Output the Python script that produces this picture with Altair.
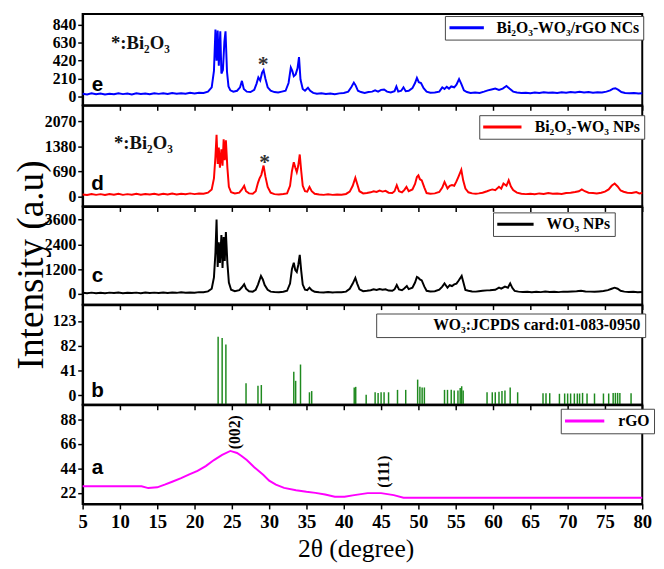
import altair as alt
import pandas as pd

# ---------------- data ----------------
x_ticks = [5, 10, 15, 20, 25, 30, 35, 40, 45, 50, 55, 60, 65, 70, 75, 80]

e_name = "Bi\u2082O\u2083-WO\u2083/rGO NCs"
e_yticks = [0, 210, 420, 630, 840]
e_points = [(5.0, 35), (5.6, 28), (6.2, 40), (6.8, 30), (7.4, 38), (8.0, 27), (8.6, 36), (9.2, 30), (9.8, 42), (10.4, 31),
            (11.0, 37), (11.6, 28), (12.2, 40), (12.8, 33), (13.4, 38), (14.0, 30), (14.6, 42), (15.2, 34), (15.8, 40),
            (16.4, 32), (17.0, 44), (17.6, 36), (18.2, 42), (18.8, 35), (19.4, 46), (20.0, 38), (20.6, 48), (21.2, 45),
            (21.8, 60), (22.3, 110), (22.6, 300), (22.8, 780), (22.95, 420), (23.1, 770), (23.25, 360), (23.45, 760),
            (23.6, 270), (23.8, 310), (24.0, 640), (24.15, 760), (24.35, 290), (24.55, 120), (24.8, 75), (25.2, 60),
            (25.7, 70), (26.1, 110), (26.35, 185), (26.6, 90), (27.0, 60), (27.5, 55), (28.0, 80), (28.3, 150),
            (28.55, 225), (28.8, 190), (29.05, 280), (29.25, 310), (29.5, 210), (29.8, 110), (30.2, 70), (30.7, 55),
            (31.2, 50), (31.7, 60), (32.2, 70), (32.6, 160), (32.9, 340), (33.1, 300), (33.3, 240), (33.55, 260),
            (33.8, 330), (34.0, 460), (34.2, 200), (34.5, 90), (34.8, 70), (35.2, 105), (35.5, 70), (35.9, 45),
            (36.4, 35), (37.0, 40), (37.6, 32), (38.2, 38), (38.8, 30), (39.4, 40), (40.0, 45), (40.6, 60), (41.0, 110),
            (41.35, 165), (41.6, 130), (41.9, 70), (42.3, 55), (42.8, 45), (43.3, 55), (43.8, 60), (44.2, 75), (44.6, 60),
            (45.0, 80), (45.4, 85), (45.8, 60), (46.3, 50), (46.8, 65), (47.05, 120), (47.3, 60), (47.7, 70), (48.0, 110),
            (48.3, 65), (48.7, 70), (49.2, 100), (49.55, 160), (49.8, 220), (50.05, 170), (50.35, 160), (50.7, 100),
            (51.1, 60), (51.6, 48), (52.2, 50), (52.8, 60), (53.2, 110), (53.5, 90), (53.8, 115), (54.1, 95), (54.4, 120),
            (54.8, 110), (55.1, 140), (55.45, 205), (55.75, 150), (56.1, 75), (56.5, 55), (57.0, 45), (57.6, 50),
            (58.2, 45), (58.8, 60), (59.3, 75), (59.8, 85), (60.3, 95), (60.8, 80), (61.3, 95), (61.8, 125), (62.2, 95),
            (62.7, 60), (63.2, 50), (63.8, 45), (64.4, 48), (65.0, 42), (65.6, 50), (66.2, 45), (66.8, 52), (67.4, 46),
            (68.0, 50), (68.6, 44), (69.2, 52), (69.8, 48), (70.4, 55), (71.0, 50), (71.6, 58), (72.2, 50), (72.8, 55),
            (73.4, 48), (74.0, 52), (74.6, 50), (75.2, 60), (75.7, 75), (76.1, 95), (76.4, 100), (76.8, 80), (77.2, 55),
            (77.7, 45), (78.3, 40), (78.9, 45), (79.5, 38), (80.0, 42)]

d_name = "Bi\u2082O\u2083-WO\u2083 NPs"
d_yticks = [0, 690, 1380, 2070]
d_points = [(5.0, 60), (5.6, 45), (6.2, 75), (6.8, 50), (7.4, 70), (8.0, 45), (8.6, 72), (9.2, 55), (9.8, 78), (10.4, 50),
            (11.0, 70), (11.6, 55), (12.2, 80), (12.8, 52), (13.4, 75), (14.0, 58), (14.6, 82), (15.2, 55), (15.8, 78),
            (16.4, 60), (17.0, 85), (17.6, 62), (18.2, 80), (18.8, 65), (19.4, 90), (20.0, 70), (20.6, 85), (21.2, 80),
            (21.8, 110), (22.3, 200), (22.6, 500), (22.8, 1100), (22.95, 1700), (23.1, 900), (23.25, 1350), (23.4, 800),
            (23.6, 1300), (23.75, 850), (23.9, 1580), (24.05, 1000), (24.2, 1550), (24.4, 800), (24.6, 270), (24.9, 120),
            (25.4, 90), (26.0, 110), (26.35, 200), (26.65, 300), (26.9, 150), (27.3, 90), (27.8, 80), (28.2, 150),
            (28.5, 380), (28.7, 495), (28.95, 600), (29.25, 855), (29.5, 550), (29.8, 270), (30.2, 110), (30.7, 70),
            (31.3, 60), (31.9, 75), (32.4, 90), (32.8, 300), (33.05, 700), (33.3, 945), (33.5, 800), (33.7, 675),
            (33.9, 850), (34.1, 1160), (34.3, 700), (34.5, 300), (34.8, 150), (35.1, 140), (35.4, 270), (35.7, 150),
            (36.1, 80), (36.7, 60), (37.3, 50), (37.9, 65), (38.5, 50), (39.1, 60), (39.7, 55), (40.3, 75), (40.8, 140),
            (41.2, 300), (41.55, 520), (41.8, 350), (42.1, 150), (42.6, 90), (43.1, 100), (43.6, 120), (44.0, 150),
            (44.4, 130), (44.8, 170), (45.2, 140), (45.6, 160), (46.0, 110), (46.5, 100), (46.8, 150), (47.1, 315),
            (47.4, 150), (47.8, 120), (48.1, 180), (48.4, 270), (48.7, 150), (49.2, 200), (49.55, 350), (49.8, 540),
            (50.0, 585), (50.2, 480), (50.45, 450), (50.8, 250), (51.1, 100), (51.6, 80), (52.2, 90), (52.8, 130),
            (53.2, 250), (53.5, 405), (53.9, 225), (54.2, 300), (54.5, 320), (54.8, 300), (55.1, 420), (55.35, 540),
            (55.75, 740), (56.0, 450), (56.3, 225), (56.7, 120), (57.2, 90), (57.7, 80), (58.1, 90), (58.6, 110),
            (59.2, 150), (59.6, 180), (59.9, 200), (60.3, 180), (60.8, 270), (61.1, 220), (61.4, 360), (61.8, 300),
            (62.1, 450), (62.4, 280), (62.7, 180), (63.2, 110), (63.8, 80), (64.4, 70), (65.0, 80), (65.6, 65),
            (66.2, 90), (66.8, 75), (67.4, 100), (68.0, 80), (68.6, 90), (69.2, 75), (69.8, 100), (70.4, 110),
            (71.0, 130), (71.5, 150), (71.9, 200), (72.3, 150), (72.8, 110), (73.4, 100), (73.9, 90), (74.5, 110),
            (75.0, 140), (75.5, 200), (75.9, 300), (76.3, 360), (76.7, 280), (77.1, 170), (77.5, 135), (78.0, 110),
            (78.6, 100), (79.2, 125), (79.6, 90), (80.0, 100)]

c_name = "WO\u2083 NPs"
c_yticks = [0, 1200, 2400, 3600]
c_points = [(5.0, 50), (5.6, 30), (6.2, 60), (6.8, 35), (7.4, 55), (8.0, 30), (8.6, 60), (9.2, 40), (9.8, 65), (10.4, 35),
            (11.0, 55), (11.6, 40), (12.2, 60), (12.8, 35), (13.4, 65), (14.0, 45), (14.6, 60), (15.2, 40), (15.8, 70),
            (16.4, 45), (17.0, 65), (17.6, 50), (18.2, 75), (18.8, 55), (19.4, 70), (20.0, 60), (20.6, 85), (21.2, 80),
            (21.8, 120), (22.3, 250), (22.6, 800), (22.8, 2000), (22.95, 3600), (23.1, 1300), (23.25, 2500),
            (23.4, 1500), (23.6, 2850), (23.75, 1250), (23.9, 2750), (24.05, 1600), (24.2, 3000), (24.4, 1500),
            (24.6, 550), (24.9, 200), (25.4, 130), (26.0, 180), (26.35, 320), (26.65, 470), (26.9, 250), (27.3, 130),
            (27.8, 110), (28.2, 200), (28.5, 450), (28.9, 870), (29.15, 700), (29.4, 430), (29.8, 200), (30.2, 110),
            (30.7, 90), (31.3, 80), (31.9, 100), (32.4, 150), (32.8, 500), (33.05, 1200), (33.3, 1510), (33.5, 1150),
            (33.7, 1060), (33.9, 1400), (34.1, 1890), (34.3, 1100), (34.5, 450), (34.8, 200), (35.1, 180), (35.4, 300),
            (35.7, 180), (36.1, 100), (36.7, 80), (37.3, 70), (37.9, 90), (38.5, 70), (39.1, 85), (39.7, 80),
            (40.3, 110), (40.8, 250), (41.2, 500), (41.55, 775), (41.8, 500), (42.1, 220), (42.6, 130), (43.1, 150),
            (43.6, 180), (44.0, 220), (44.4, 190), (44.8, 230), (45.2, 200), (45.6, 220), (46.0, 160), (46.5, 150),
            (46.8, 220), (47.1, 430), (47.4, 220), (47.8, 180), (48.1, 260), (48.45, 380), (48.7, 230), (49.2, 300),
            (49.55, 550), (49.8, 823), (50.0, 780), (50.2, 700), (50.45, 650), (50.8, 350), (51.1, 150), (51.6, 120),
            (52.2, 130), (52.8, 200), (53.2, 350), (53.5, 508), (53.9, 300), (54.2, 420), (54.5, 380), (54.8, 460),
            (55.1, 500), (55.4, 650), (55.8, 870), (56.0, 600), (56.3, 190), (56.7, 150), (57.2, 120), (57.7, 110),
            (58.1, 130), (58.6, 150), (59.2, 170), (59.6, 180), (59.9, 190), (60.3, 200), (60.8, 300), (61.1, 250),
            (61.6, 350), (62.0, 300), (62.3, 508), (62.6, 280), (62.9, 143), (63.4, 110), (64.0, 90), (64.6, 100),
            (65.2, 80), (65.8, 100), (66.4, 85), (67.0, 110), (67.6, 90), (68.2, 100), (68.8, 85), (69.4, 110),
            (70.0, 100), (70.6, 120), (71.2, 130), (71.8, 150), (72.4, 120), (73.0, 110), (73.6, 100), (74.2, 120),
            (74.8, 140), (75.4, 180), (75.9, 250), (76.3, 300), (76.7, 250), (77.1, 150), (77.6, 110), (78.2, 90),
            (78.8, 100), (79.4, 80), (80.0, 90)]

b_name = "WO\u2083:JCPDS card:01-083-0950"
b_yticks = [0, 41, 82, 123]
b_sticks = [(23.16, 97), (23.7, 95), (24.2, 84), (26.9, 20), (28.5, 16), (28.95, 17), (33.3, 39), (33.55, 24),
            (34.2, 51), (35.4, 5), (35.7, 7), (41.4, 13), (41.6, 14), (43.0, 1), (44.2, 5), (44.6, 4), (45.0, 5),
            (45.4, 5), (46.0, 5), (47.2, 9), (48.3, 9), (49.9, 26), (50.2, 14), (50.5, 13), (50.8, 13), (53.5, 9),
            (53.9, 9), (54.4, 9), (54.8, 8), (55.3, 8), (55.6, 12), (55.8, 15), (56.0, 8), (59.2, 5), (59.9, 5),
            (60.3, 5), (60.8, 6), (61.2, 7), (61.6, 8), (62.3, 13), (63.3, 5), (66.7, 3.5), (67.1, 3.5), (67.6, 3.5),
            (68.9, 2.5), (69.6, 3), (70.0, 3), (70.4, 3), (70.9, 3), (71.3, 3), (71.6, 3), (72.0, 4), (72.6, 3),
            (73.6, 3), (74.8, 3), (75.5, 3), (76.1, 4), (76.4, 4), (76.7, 4), (77.0, 4), (78.5, 3.5)]

a_name = "rGO"
a_yticks = [22, 44, 66, 88]
a_points = [(5, 27.9), (8, 27.9), (11, 27.9), (12.9, 28), (13.8, 26.3), (15, 27), (16, 29.4), (17, 32), (18.2, 35.2),
            (19.3, 38.5), (20.4, 41.7), (21.5, 46), (22.6, 51.4), (23.7, 56), (24.8, 59.6), (25.7, 57.8), (26.3, 55),
            (27.0, 51.4), (28, 45), (29.2, 38.2), (30, 33), (30.9, 29.4), (32, 26.5), (33.6, 24.4), (35, 23),
            (36.2, 22), (37.5, 20.6), (38.8, 18.5), (40.1, 18.5), (41.4, 20), (43.2, 21.8), (45, 21.8), (46.7, 20),
            (48, 17.6), (50, 17.6), (60, 17.6), (70, 17.6), (80, 17.6)]

# annotations: (2theta, value, text)
e_notes = [(8.8, 560, "*:Bi\u2082O\u2083"), (29.2, 300, "*")]
d_notes = [(9.2, 1323, "*:Bi\u2082O\u2083"), (29.4, 764, "*")]
a_planes = [(25.4, 76.3, "(002)"), (45.4, 41, "(111)")]
panel_letters = {"e": (7.0, 66), "d": (7.0, 189), "c": (7.0, 585), "b": (7.0, -3), "a": (7.0, 39.3)}

SERIF = "Liberation Serif"
SANS = "Liberation Sans"
W = 570


def x_enc(bottom):
    if bottom:
        axis = alt.Axis(values=x_ticks, title="2\u03b8 (degree)", labelFontSize=19, labelPadding=4, tickSize=5,
                        titleFont=SERIF, titleFontWeight="normal", titleFontSize=26, titleColor="black",
                        titleX=278, titleY=45, titleBaseline="middle", labelFlush=False)
    else:
        axis = alt.Axis(values=x_ticks, labels=False, title=None, tickSize=5)
    return alt.X("x:Q", scale=alt.Scale(domain=[5, 80], nice=False, zero=False), axis=axis)


def y_enc(domain, ticks, title=False):
    if title:
        axis = alt.Axis(values=ticks, format="d", labelFontSize=16, tickSize=5, labelPadding=2,
                        title="Intensity (a.u)", titleFont=SERIF, titleFontWeight="normal", titleFontSize=38,
                        titleColor="black", titleX=-52, titleY=59, titleAngle=270, titleBaseline="middle",
                        titleAlign="center")
    else:
        axis = alt.Axis(values=ticks, format="d", labelFontSize=16, tickSize=5, labelPadding=2, title=None)
    return alt.Y("y:Q", scale=alt.Scale(domain=domain, nice=False, zero=False), axis=axis)


def legend(lx, ly, length, invisible=False):
    # a horizontal line symbol of the given pixel length, drawn as a custom path
    s = length / 3.0
    kw = dict(orient="none", legendX=lx, legendY=ly, title=None, strokeColor="#444444", fillColor="white",
              padding=4, labelFont=SERIF, labelFontWeight="bold", labelFontSize=16, labelColor="black",
              labelLimit=400, symbolType="M-3,0H3", symbolSize=s * s, symbolStrokeWidth=3,
              symbolOffset=s - 1.5, labelOffset=2 * s - 1, cornerRadius=0)
    if invisible:
        kw.update(symbolOpacity=0, symbolStrokeWidth=0, symbolOffset=s, labelOffset=2 * s + 2)
    return alt.Legend(**kw)


def letter_layer(key, xe, ye):
    lx, ly = panel_letters[key]
    df = pd.DataFrame({"x": [lx], "y": [ly], "t": [key]})
    return alt.Chart(df).mark_text(font=SANS, fontWeight="bold", fontSize=21, align="center",
                                   baseline="alphabetic", color="black").encode(x=xe, y=ye, text="t:N")


def build(key, points, name, color, domain, ticks, height, lx, ly, length, notes, title=False, bottom=False,
          planes=None):
    df = pd.DataFrame(points, columns=["x", "y"])
    df["s"] = name
    xe = x_enc(bottom)
    ye = y_enc(domain, ticks, title)
    line = alt.Chart(df).mark_line(strokeWidth=2).encode(
        x=xe, y=ye,
        color=alt.Color("s:N", scale=alt.Scale(domain=[name], range=[color]), legend=legend(lx, ly, length)))
    layers = [line, letter_layer(key, xe, ye)]
    if notes:
        ndf = pd.DataFrame(notes, columns=["x", "y", "t"])
        lab = ndf[ndf["t"] != "*"]
        star = ndf[ndf["t"] == "*"]
        layers.append(alt.Chart(lab).mark_text(font=SERIF, fontWeight="bold", fontSize=19, align="left",
                                               baseline="alphabetic", color="#111111").encode(
            x=xe, y=ye, text="t:N"))
        layers.append(alt.Chart(star).mark_text(font=SERIF, fontWeight="bold", fontSize=22, align="center",
                                                baseline="alphabetic", color="#333333").encode(
            x=xe, y=ye, text="t:N"))
    if planes:
        pdf = pd.DataFrame(planes, columns=["x", "y", "t"])
        layers.append(alt.Chart(pdf).mark_text(font=SERIF, fontWeight="bold", fontSize=16, align="center",
                                               baseline="middle", angle=270, color="black").encode(
            x=xe, y=ye, text="t:N"))
    return alt.layer(*layers).properties(width=W, height=height)


pe = build("e", e_points, e_name, "#0000ff", [-99.5, 960], e_yticks, 93, 369, 2, 35, e_notes)
pd_ = build("d", d_points, d_name, "#ff0000", [-270, 2510], d_yticks, 103, 404, 10, 39, d_notes)
pc = build("c", c_points, c_name, "#000000", [-523, 4232], c_yticks, 100, 418, 6, 37, None, title=True)
pa = build("a", a_points, a_name, "#ff00ff", [12.06, 100.9], a_yticks, 101, 487, 4, 40, None, bottom=True,
           planes=a_planes)

# panel b: stick pattern
bdf = pd.DataFrame(b_sticks, columns=["x", "y"])
bdf["s"] = b_name
xb = x_enc(False)
yb = y_enc([-15.8, 150.2], b_yticks)
b_rules = alt.Chart(bdf).mark_rule(strokeWidth=1.5).encode(
    x=xb, y=yb, y2=alt.value(102),
    color=alt.Color("s:N", scale=alt.Scale(domain=[b_name], range=["#1f8a1f"]),
                    legend=legend(299, 9, 36, invisible=True)))
pb = alt.layer(b_rules, letter_layer("b", xb, yb)).properties(width=W, height=102)

chart = alt.vconcat(pe, pd_, pc, pb, pa, spacing=0, bounds="flush",
                    padding={"left": 4, "top": 0, "right": 0, "bottom": 0}).resolve_scale(
    y="independent", color="independent", x="independent"
).configure_view(stroke="black", strokeWidth=2).configure_axis(
    grid=False, domainColor="black", domainWidth=2, tickColor="black", tickWidth=1.5,
    labelColor="black", labelFont=SERIF, labelFontWeight="bold"
)

chart.save("out.html", embed_options={"renderer": "svg", "actions": False})
